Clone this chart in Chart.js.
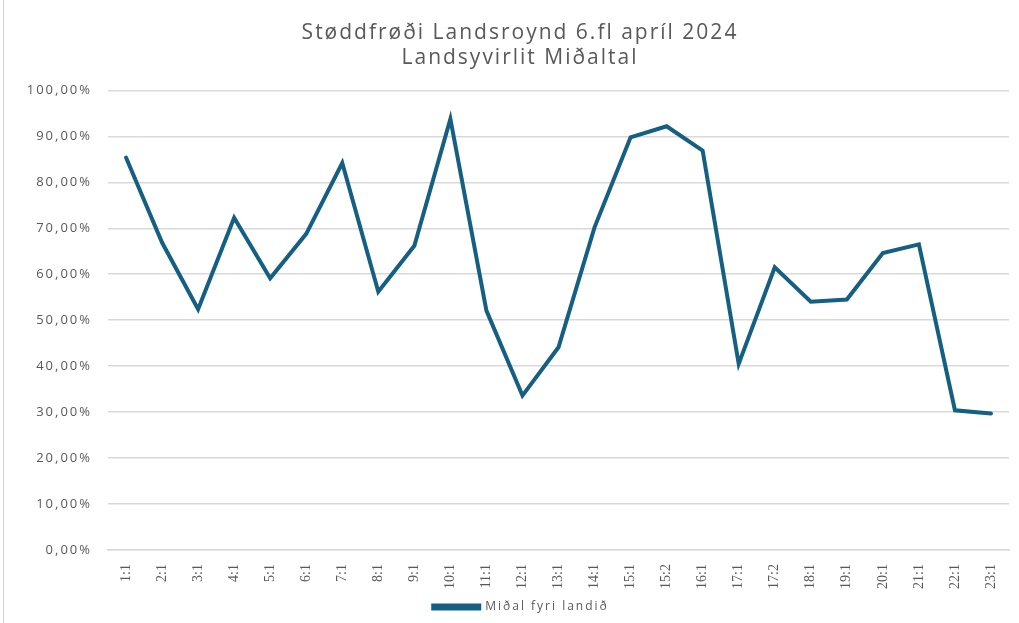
<!DOCTYPE html>
<html>
<head>
<meta charset="utf-8">
<script src="https://cdn.jsdelivr.net/npm/chart.js@4"></script>
<style>
html,body{margin:0;padding:0;background:#fff;}
#wrap{position:absolute;left:0;top:0;width:1019px;height:623px;}
#frame{position:absolute;left:3px;top:0;width:1px;height:623px;background:#d0d0d0;}
canvas{position:absolute;left:0;top:0;}
</style>
</head>
<body>
<div id="wrap"><div id="frame"></div><canvas id="c" width="1019" height="623"></canvas></div>
<script>
const titleLines = ["Støddfrøði Landsroynd 6.fl apríl 2024", "Landsyvirlit Miðaltal"];
const categories = ["1:1","2:1","3:1","4:1","5:1","6:1","7:1","8:1","9:1","10:1","11:1","12:1","13:1","14:1","15:1","15:2","16:1","17:1","17:2","18:1","19:1","20:1","21:1","22:1","23:1"];
const seriesName = "Miðal fyri landið";
const seriesValues = [0.854,0.669,0.524,0.723,0.591,0.688,0.842,0.562,0.662,0.938,0.521,0.336,0.441,0.702,0.898,0.922,0.869,0.405,0.615,0.540,0.545,0.646,0.665,0.304,0.297];

const font = "'Open Sans', 'Noto Sans', sans-serif";
const spacing = {
  id: 'spacing',
  beforeUpdate(chart) { chart.ctx.letterSpacing = '2px'; },
  beforeLayout(chart) { chart.ctx.letterSpacing = '2px'; },
  afterLayout(chart) {
    if (chart.titleBlock) chart.titleBlock.left += 21;
    if (chart.legend) chart.legend.left += 23;
    const sx = chart.scales.x;
    if (sx && !sx._noSpacing) {
      const orig = sx.drawLabels;
      sx.drawLabels = function (a) {
        const prev = this.ctx.letterSpacing;
        this.ctx.letterSpacing = '0px';
        orig.call(this, a);
        this.ctx.letterSpacing = prev;
      };
      sx._noSpacing = true;
    }
  },
  beforeDraw(chart) { chart.ctx.letterSpacing = '2px'; }
};
new Chart(document.getElementById('c'), {
  type: 'line',
  plugins: [spacing],
  data: {
    labels: categories,
    datasets: [{
      label: seriesName,
      data: seriesValues,
      borderColor: '#156082',
      backgroundColor: '#156082',
      borderWidth: 4,
      pointRadius: 0,
      tension: 0,
      borderCapStyle: 'round',
      borderJoinStyle: 'miter'
    }]
  },
  options: {
    responsive: false,
    animation: false,
    devicePixelRatio: 1,
    layout: { padding: { left: 10, right: 10, top: 20, bottom: 0 } },
    plugins: {
      title: {
        display: true,
        text: titleLines,
        color: '#595959',
        font: { family: font, size: 21, weight: 'normal', lineHeight: 1.2 },
        padding: { top: 0, bottom: 20 }
      },
      legend: {
        position: 'bottom',
        labels: {
          color: '#595959',
          font: { family: font, size: 12 },
          boxWidth: 46,
          boxHeight: 3,
          padding: 9
        }
      },
      tooltip: { enabled: false }
    },
    scales: {
      x: {
        offset: true,
        afterFit: s => { s.height = 42; },
        grid: { display: false, drawTicks: true, offset: true },
        border: { color: '#d9d9d9', width: 1.5 },
        ticks: {
          color: '#595959',
          font: { family: "'Liberation Serif', 'DejaVu Serif', serif", size: 14 },
          minRotation: 90,
          maxRotation: 90,
          padding: 6
        }
      },
      y: {
        min: 0,
        max: 1,
        afterFit: s => { s.width = 98; },
        grid: { color: '#d9d9d9', lineWidth: 1.5, drawTicks: false },
        border: { display: false },
        ticks: {
          stepSize: 0.1,
          color: '#595959',
          font: { family: font, size: 13 },
          padding: 16,
          callback: v => (v * 100).toFixed(2).replace('.', ',') + '%'
        }
      }
    }
  }
});
</script>
</body>
</html>
